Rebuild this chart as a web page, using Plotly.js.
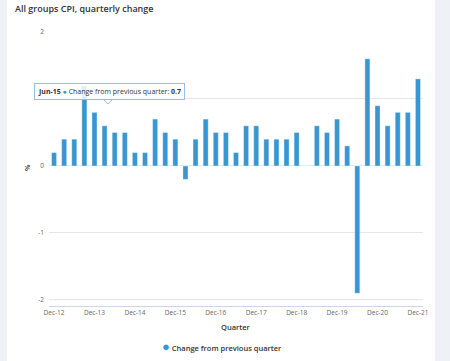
<!DOCTYPE html>
<html>
<head>
<meta charset="utf-8">
<script src="https://cdn.plot.ly/plotly-3.0.1.min.js"></script>
<style>
  html, body { margin: 0; padding: 0; background: #eef2f6; width: 450px; height: 361px; overflow: hidden; }
  #card { position: absolute; left: 7px; top: 0; width: 428px; height: 361px; background: #ffffff; }
  #chart { width: 428px; height: 361px; }
</style>
</head>
<body>
<div id="card"><div id="chart"></div></div>
<script>
// Quarter labels
const quarters = [
  "Dec-12",
  "Mar-13","Jun-13","Sep-13","Dec-13",
  "Mar-14","Jun-14","Sep-14","Dec-14",
  "Mar-15","Jun-15","Sep-15","Dec-15",
  "Mar-16","Jun-16","Sep-16","Dec-16",
  "Mar-17","Jun-17","Sep-17","Dec-17",
  "Mar-18","Jun-18","Sep-18","Dec-18",
  "Mar-19","Jun-19","Sep-19","Dec-19",
  "Mar-20","Jun-20","Sep-20","Dec-20",
  "Mar-21","Jun-21","Sep-21","Dec-21"
];
// Change from previous quarter (%)
const changeFromPrevQuarter = [
  0.2,
  0.4, 0.4, 1.2, 0.8,
  0.6, 0.5, 0.5, 0.2,
  0.2, 0.7, 0.5, 0.4,
  -0.2, 0.4, 0.7, 0.5,
  0.5, 0.2, 0.6, 0.6,
  0.4, 0.4, 0.4, 0.5,
  0.0, 0.6, 0.5, 0.7,
  0.3, -1.9, 1.6, 0.9,
  0.6, 0.8, 0.8, 1.3
];
// X tick labels shown
const xTickLabels = ["Dec-12","Dec-13","Dec-14","Dec-15","Dec-16","Dec-17","Dec-18","Dec-19","Dec-20","Dec-21"];
const yTicks = [-2, -1, 0, 1, 2];
// the "1" label sits under the tooltip in the reference
const yTickLabels = ["-2", "-1", "0", "", "2"];

const seriesName = "Change from previous quarter";
const barColor = "#3a96d0";
const FONT = "Open Sans, Noto Sans, sans-serif";

const traces = [
  {
    type: "bar",
    x: quarters,
    y: changeFromPrevQuarter,
    name: seriesName,
    showlegend: false,
    marker: { color: barColor, line: { color: "rgba(255,255,255,0.6)", width: 0.6 } },
    hoverinfo: "skip"
  }
];

// plot area in page coordinates: left 49, right 423, top 32, bottom 306
const L = 42, R = 12, T = 32, B = 361 - 306;
const plotW = 428 - L - R, plotH = 361 - T - B;
const px = (x) => (x - 7 - L) / plotW;        // page x -> paper
const py = (y) => (361 - B - y) / plotH;      // page y -> paper

const tipText = "<b>Jun-15</b> <span style='color:" + barColor + "'>●</span> " +
  seriesName + ": <b>" + changeFromPrevQuarter[quarters.indexOf("Jun-15")] + "</b>";

const legendText = "<span style='color:" + barColor + ";font-size:13px'>●</span> " + seriesName;

const layout = {
  width: 428,
  height: 361,
  margin: { l: L, r: R, t: T, b: B, autoexpand: false },
  paper_bgcolor: "#ffffff",
  plot_bgcolor: "#ffffff",
  font: { family: FONT, color: "#666666" },
  showlegend: false,
  title: {
    text: "All groups CPI, quarterly change",
    font: { family: FONT, size: 9, color: "#333333", weight: 600 },
    xref: "container", yref: "container",
    x: 8 / 428, xanchor: "left",
    y: 1 - 9 / 361, yanchor: "middle"
  },
  bargap: 0.5,
  xaxis: {
    type: "category",
    categoryorder: "array",
    categoryarray: quarters,
    range: [-0.5, quarters.length - 0.5],
    tickmode: "array",
    tickvals: xTickLabels,
    ticktext: xTickLabels,
    ticks: "",
    showgrid: false,
    showline: true,
    linecolor: "#ccd6eb",
    linewidth: 1,
    tickfont: { family: FONT, size: 6.5, color: "#666666" },
    fixedrange: true
  },
  yaxis: {
    range: [-2.09, 2],
    tickmode: "array",
    tickvals: yTicks,
    ticktext: yTickLabels,
    showgrid: true,
    gridcolor: "#e6e6e6",
    gridwidth: 1,
    zeroline: false,
    showline: false,
    ticks: "",
    ticklabelstandoff: 4,
    tickfont: { family: FONT, size: 6.5, color: "#666666" },
    fixedrange: true
  },
  annotations: [
    {
      text: "Quarter",
      xref: "paper", yref: "paper",
      x: px(236), y: py(327),
      xanchor: "center", yanchor: "middle",
      showarrow: false,
      font: { family: FONT, size: 7.5, color: "#333333", weight: 600 }
    },
    {
      text: "%",
      xref: "paper", yref: "paper",
      x: px(27), y: py(168),
      xanchor: "center", yanchor: "middle",
      textangle: -90,
      showarrow: false,
      font: { family: FONT, size: 7.5, color: "#333333", weight: 600 }
    },
    {
      text: legendText,
      xref: "paper", yref: "paper",
      x: px(222), y: py(346),
      xanchor: "center", yanchor: "middle",
      showarrow: false,
      font: { family: FONT, size: 7.5, color: "#333333", weight: 600 }
    },
    {
      text: tipText,
      xref: "paper", yref: "paper",
      x: px(109.5), y: py(91),
      xanchor: "center", yanchor: "middle",
      showarrow: false,
      bgcolor: "rgba(255,255,255,0.85)",
      bordercolor: "#8fc3e6",
      borderwidth: 1,
      borderpad: 3,
      font: { family: FONT, size: 7, color: "#333333" }
    }
  ],
  shapes: [
    {
      type: "path",
      xref: "paper", yref: "paper",
      path: "M " + px(104) + "," + py(100) + " L " + px(108) + "," + py(104) + " L " + px(112) + "," + py(100),
      line: { color: "#8fc3e6", width: 1 },
      fillcolor: "rgba(255,255,255,0.9)",
      layer: "above"
    }
  ]
};

Plotly.newPlot("chart", traces, layout, { displayModeBar: false, staticPlot: true });
</script>
</body>
</html>
